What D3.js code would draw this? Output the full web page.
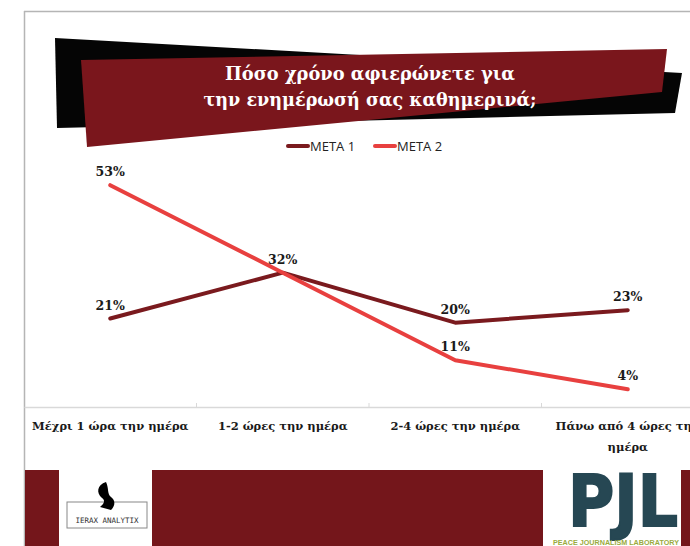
<!DOCTYPE html>
<html><head><meta charset="utf-8">
<script src="https://cdn.jsdelivr.net/npm/d3@7/dist/d3.min.js"></script>
<style>body{margin:0;background:#fff;overflow:hidden}svg{display:block}</style>
</head><body><svg id="c" width="690" height="546"></svg>
<script>
const categories = ["Μέχρι 1 ώρα την ημέρα", "1-2 ώρες την ημέρα", "2-4 ώρες την ημέρα", "Πάνω από 4 ώρες την ημέρα"];
const seriesNames = ["META 1", "META 2"];
const meta1 = [21, 32, 20, 23];
const meta2 = [53, 32, 11, 4];
const seriesColors = ["#7a1a1e", "#e8403f"];
const titleLines = ["Πόσο χρόνο αφιερώνετε για", "την ενημέρωσή σας καθημερινά;"];

const svg = d3.select("#c");
const W = 690, H = 546;

// frame
svg.append("line").attr("x1",24).attr("x2",W).attr("y1",11.5).attr("y2",11.5).attr("stroke","#b5b5b5").attr("stroke-width",1.5);
svg.append("line").attr("x1",24.5).attr("x2",24.5).attr("y1",11).attr("y2",H).attr("stroke","#b5b5b5").attr("stroke-width",1.5);

// title banner shapes
svg.append("polygon").attr("points","55,38 682,73 675,113 57,128").attr("fill","#050505");
svg.append("polygon").attr("points","81,60 667,49 662,92 87,147").attr("fill","#7a161c");
const tl = [[290,80],[333,106]];
titleLines.forEach((t,i)=>{
  svg.append("text").attr("x",370).attr("y",tl[i][1]).attr("text-anchor","middle")
    .attr("font-family","'DejaVu Serif', serif").attr("font-weight","bold").attr("font-size",18.5).attr("fill","#fff")
    .attr("textLength",tl[i][0]).attr("lengthAdjust","spacingAndGlyphs").text(t);
});

// scales
const x = d3.scaleBand().domain(categories).range([24, 714]).padding(0);
const y = d3.scaleLinear().domain([0, 60]).range([406, 156]);
const cx = c => x(c) + x.bandwidth()/2;

// axis
const axis = d3.axisBottom(x).tickSize(0).tickFormat("");
const ag = svg.append("g").attr("transform","translate(0,407)").call(axis);
ag.select(".domain").attr("stroke","#d9d9d9").attr("stroke-width",1.5);
categories.forEach((c,i)=>{
  if(i>0) svg.append("line").attr("x1",x(c)).attr("x2",x(c)).attr("y1",403).attr("y2",407).attr("stroke","#d9d9d9");
});

// category labels
categories.forEach((c,i)=>{
  const t = svg.append("text").attr("text-anchor","middle").attr("font-family","'DejaVu Serif', serif")
    .attr("font-weight","bold").attr("font-size",11.5).attr("fill","#1a1a1a");
  if(i===3){
    t.append("tspan").attr("x",cx(c)).attr("y",430).text("Πάνω από 4 ώρες την");
    t.append("tspan").attr("x",cx(c)).attr("y",451).text("ημέρα");
  } else {
    t.attr("x",cx(c)).attr("y",430).text(c);
  }
});

// lines
const data = [meta1, meta2];
const line = d3.line().x((d,i)=>cx(categories[i])).y(d=>y(d));
data.forEach((s,k)=>{
  svg.append("path").datum(s).attr("d",line).attr("fill","none").attr("stroke",seriesColors[k])
    .attr("stroke-width",4).attr("stroke-linecap","round").attr("stroke-linejoin","round");
});
// labels
data.forEach((s,k)=>{
  s.forEach((v,i)=>{
    if(k===1 && i===1) return; // shared 32% label
    svg.append("text").attr("x",cx(categories[i])).attr("y",y(v)-9).attr("text-anchor","middle")
      .attr("font-family","'DejaVu Serif', serif").attr("font-weight","bold").attr("font-size",12.5)
      .attr("fill","#1a1a1a").text(v+"%");
  });
});

// legend
const lg = [[288,310],[375,397]];
seriesNames.forEach((n,k)=>{
  svg.append("line").attr("x1",lg[k][0]).attr("x2",lg[k][0]+20).attr("y1",146).attr("y2",146)
    .attr("stroke",seriesColors[k]).attr("stroke-width",4).attr("stroke-linecap","round");
  svg.append("text").attr("x",lg[k][1]).attr("y",151).attr("font-family","'Open Sans', sans-serif")
    .attr("font-size",13).attr("fill","#222").text(n);
});

// bottom band with logos
svg.append("rect").attr("x",25).attr("y",470).attr("width",W-25).attr("height",H-470).attr("fill","#74161b");
svg.append("rect").attr("x",59).attr("y",468).attr("width",93).attr("height",H-468).attr("fill","#fff");
svg.append("rect").attr("x",543).attr("y",468).attr("width",138).attr("height",H-468).attr("fill","#fff");
svg.append("rect").attr("x",67).attr("y",502).attr("width",80).attr("height",26).attr("fill","none").attr("stroke","#888").attr("stroke-width",1);
svg.append("path").attr("d","M106,482 C97,485 96,493 102,498 C105,500 105,503 100,507 L111,510 C116,505 115,500 111,497 C107,494 109,488 106,482 Z").attr("fill","#000");
svg.append("text").attr("x",107).attr("y",523).attr("text-anchor","middle").attr("font-family","'DejaVu Sans Mono', monospace")
  .attr("font-size",7.5).attr("fill","#333").text("IERAX ANALYTIX");
svg.append("text").attr("x",568).attr("y",526).attr("font-family","'DejaVu Sans', sans-serif").attr("font-weight","bold")
  .attr("font-size",72).attr("fill","#264753").attr("stroke","#264753").attr("stroke-width",2)
  .attr("textLength",110).attr("lengthAdjust","spacingAndGlyphs").text("PJL");
svg.append("text").attr("x",553).attr("y",545).attr("font-family","'Liberation Sans', sans-serif").attr("font-weight","bold")
  .attr("font-size",7.5).attr("fill","#9aab3e").attr("textLength",126).attr("lengthAdjust","spacingAndGlyphs").text("PEACE JOURNALISM LABORATORY");
</script></body></html>
